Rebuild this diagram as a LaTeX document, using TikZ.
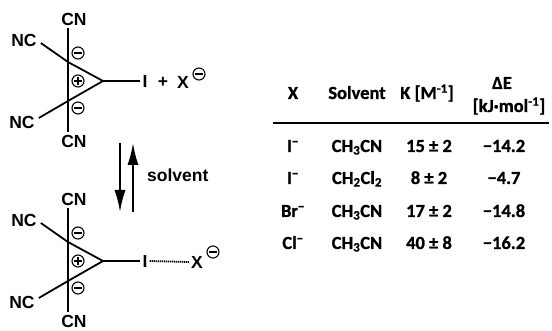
\documentclass[tikz,border=0pt]{standalone}
\usepackage{fontspec}
\setmainfont{Liberation Sans}
\newfontfamily\tabfont{Carlito}[BoldFont={* Bold},BoldFeatures={FakeBold=1}]
\usetikzlibrary{arrows.meta,calc}
\tikzset{
  bond/.style={line width=1.8pt},
  atom/.style={font=\fontsize{17.5}{19}\selectfont\bfseries, inner sep=0pt},
  cell/.style={font=\tabfont\bfseries\fontsize{18.5}{20}\selectfont, inner sep=0pt, anchor=base},
  chgc/.style={line width=1.1pt},
  eqarrow/.style={line width=1.8pt, -{Latex[length=22pt,width=11pt]}},
  charge/.pic={
    \draw[chgc] (0,0) circle[radius=6];
    \draw[chgc] (-3.6,0) -- (3.6,0);
    \ifx#1+\draw[chgc] (0,-3.6) -- (0,3.6);\fi
  },
  tcne/.pic={
    \node[atom] (cnt) at (74,19) {CN};
    \node[atom] (nct) at (24,40) {NC};
    \node[atom] (ncb) at (22,122) {NC};
    \node[atom] (cnb) at (74,141.5) {CN};
    \node[atom] (i) at (145,81) {I};
    \coordinate (v1) at (68,62);
    \coordinate (v2) at (68,101);
    \coordinate (ap) at (103,81);
    \draw[bond] ($(cnt.south -| v1)+(0,3)$) -- ($(cnb.north -| v1)+(0,-3)$);
    \draw[bond] ($(nct.east)+(4,3)$) -- (v1) -- (ap) -- (v2) -- ($(ncb.east)+(4,-4)$);
    \draw[bond, shorten >=2pt] (ap) -- (i.west);
    \pic at (78,53) {charge=-};
    \pic at (78,81) {charge=+};
    \pic at (78,108) {charge=-};
  }
}
\begin{document}
\begin{tikzpicture}[x=1pt,y=-1pt]
\useasboundingbox (0,0) rectangle (552,331);
% top structure
\pic (t) at (0,0) {tcne};
\node[atom] (plus) at (163,82) {+};
\node[atom] (xt) at (183,82) {X};
\pic at (199,74) {charge=-};
% bottom structure
\pic (b) at (0,180) {tcne};
\node[atom] (xb) at (197,262) {X};
\pic at (213,252) {charge=-};
\draw[line width=1.8pt, dash pattern=on 1.2pt off 0.8pt] (bi.east) ++(2,0) -- ($(xb.west)+(-2,0)$);
% equilibrium arrows
\coordinate (d1) at (120,143);
\coordinate (d2) at (120,212);
\coordinate (u1) at (133,212);
\coordinate (u2) at (133,143);
\draw[eqarrow] (d1) -- (d2);
\draw[eqarrow] (u1) -- (u2);
\node[atom, anchor=west] (solv) at (147,175) {solvent};
% table
\node[cell] (hx) at (293,99) {X};
\node[cell] (hs) at (357,99) {Solvent};
\node[cell] (hk) at (427,99) {K [M\textsuperscript{-1}]};
\node[cell] (he1) at (502,89) {ΔE};
\node[cell] (he2) at (509,112) {[kJ·mol\textsuperscript{-1}]};
\coordinate (r1) at (273,123);
\coordinate (r2) at (549,123);
\draw[line width=1.6pt] (r1) -- (r2);
\node[cell] (a1) at (293,152) {I\textsuperscript{−}};
\node[cell] (b1) at (357,152) {CH\textsubscript{3}CN};
\node[cell] (c1) at (429,152) {15 ± 2};
\node[cell] (d1t) at (504,152) {−14.2};
\node[cell] (a2) at (293,184) {I\textsuperscript{−}};
\node[cell] (b2) at (357,184) {CH\textsubscript{2}Cl\textsubscript{2}};
\node[cell] (c2) at (429,184) {8 ± 2};
\node[cell] (d2t) at (504,184) {−4.7};
\node[cell] (a3) at (293,217) {Br\textsuperscript{−}};
\node[cell] (b3) at (357,217) {CH\textsubscript{3}CN};
\node[cell] (c3) at (429,217) {17 ± 2};
\node[cell] (d3t) at (504,217) {−14.8};
\node[cell] (a4) at (293,249) {Cl\textsuperscript{−}};
\node[cell] (b4) at (357,249) {CH\textsubscript{3}CN};
\node[cell] (c4) at (429,249) {40 ± 8};
\node[cell] (d4t) at (504,249) {−16.2};
\end{tikzpicture}
\end{document}
